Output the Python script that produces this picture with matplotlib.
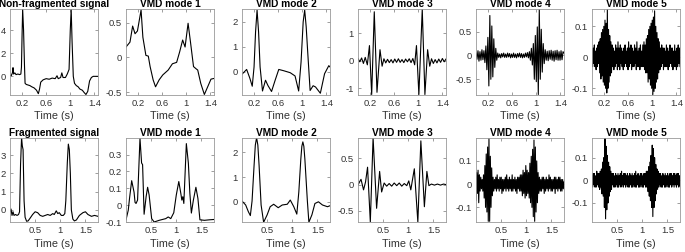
import numpy as np
import matplotlib
matplotlib.use('Agg')
import matplotlib.pyplot as plt
from matplotlib.ticker import FormatStrFormatter

plt.rcParams['font.family'] = ['Liberation Sans', 'DejaVu Sans']
plt.rcParams['axes.unicode_minus'] = False

# ---- top row: non-fragmented signal and its VMD modes ----
top_titles = ['Non-fragmented signal', 'VMD mode 1', 'VMD mode 2', 'VMD mode 3', 'VMD mode 4', 'VMD mode 5']
top_xticks = [0.2, 0.6, 1, 1.4]

sig_top_t = [0.00, 0.02, 0.04, 0.05, 0.06, 0.08, 0.10, 0.13, 0.16, 0.18, 0.19, 0.20, 0.21, 0.225, 0.24,
             0.25, 0.27, 0.30, 0.33, 0.36, 0.40, 0.44, 0.47, 0.49, 0.51, 0.55, 0.60, 0.65, 0.70, 0.75,
             0.78, 0.80, 0.84, 0.86, 0.88, 0.92, 0.95, 0.98, 1.00, 1.015, 1.03, 1.05, 1.07, 1.10, 1.13,
             1.16, 1.20, 1.23, 1.26, 1.29, 1.32, 1.35, 1.38, 1.46]
sig_top_v = [0.1, 0.05, 0.3, 0.75, 0.2, 0.3, 0.15, 0.2, 0.15, 0.2, 0.8, 3.5, 5.8, 4.0, 1.0,
             -0.6, -0.7, -0.75, -0.8, -0.9, -1.0, -1.2, -1.5, -1.1, -0.5, -0.3, -0.2, -0.25, -0.15, -0.2,
             0.05, -0.2, -0.1, 0.3, -0.1, -0.1, 0.2, 0.6, 4.0, 5.8, 3.0, 0.0, -0.6, -0.8, -0.9,
             -1.1, -1.2, -1.4, -1.57, -1.3, -0.4, -0.1, 0.0, 0.0]

m1_top_t = [0.00, 0.066, 0.11, 0.15, 0.19, 0.25, 0.28, 0.33, 0.37, 0.40, 0.45, 0.49, 0.55, 0.61, 0.70,
            0.77, 0.84, 0.89, 0.94, 0.98, 1.03, 1.07, 1.12, 1.16, 1.19, 1.24, 1.30, 1.37, 1.41, 1.46]
m1_top_v = [0.15, 0.22, 0.45, 0.34, 0.38, 0.68, 0.29, 0.03, 0.02, -0.13, -0.32, -0.42, -0.32, -0.25, -0.18,
            -0.09, -0.07, 0.08, 0.25, 0.15, 0.49, 0.22, -0.13, -0.16, -0.18, -0.37, -0.53, -0.39, -0.31, -0.3]

m2_top_t = [0.00, 0.077, 0.13, 0.17, 0.20, 0.225, 0.25, 0.275, 0.30, 0.34, 0.39, 0.43, 0.49, 0.55, 0.61, 0.69, 0.80,
            0.88, 0.94, 0.98, 1.015, 1.04, 1.065, 1.09, 1.13, 1.18, 1.22, 1.30, 1.37, 1.44, 1.46]
m2_top_v = [-0.09, 0.1, -0.25, -0.57, 0.2, 1.6, 2.47, 1.6, 0.2, -0.76, -0.33, -0.54, -0.78, -0.33, 0.1, 0.05, -0.03,
            -0.16, -0.76, 0.4, 2.0, 2.47, 1.8, 0.8, -0.74, -0.55, -0.6, -0.85, -0.07, 0.25, 0.2]

m3_top_t = [0.00, 0.03, 0.06, 0.09, 0.12, 0.155, 0.19, 0.227, 0.27, 0.315, 0.365, 0.40, 0.43, 0.46, 0.49,
            0.52, 0.55, 0.58, 0.61, 0.64, 0.67, 0.70, 0.73, 0.76, 0.79, 0.82, 0.85, 0.88, 0.91, 0.94,
            0.97, 1.01, 1.066, 1.11, 1.155, 1.19, 1.22, 1.25, 1.28, 1.31, 1.34, 1.37, 1.40, 1.43, 1.46]
m3_top_v = [0.08, -0.04, 0.1, -0.1, 0.12, -0.15, 0.55, -1.23, 1.78, -1.15, 0.4, -0.2, 0.07, -0.08, 0.05,
            -0.07, 0.04, -0.08, 0.06, -0.06, 0.07, -0.06, 0.04, -0.07, 0.06, -0.04, 0.07, -0.07, 0.08, -0.15,
            0.55, -1.23, 1.87, -1.23, 0.4, -0.2, 0.07, -0.1, 0.04, -0.08, 0.06, -0.06, 0.08, -0.04, 0.06]

m4_top_v = [0.05, -0.08, 0.1, -0.12, 0.08, -0.1, 0.12, -0.09, 0.1,
            -0.15, 0.2, -0.3, 0.38, -0.64, 0.84, -0.5, 0.62, -0.45, 0.35, -0.25, 0.15, -0.1,
            0.05, -0.04, 0.03, -0.05, 0.04, -0.03, 0.05, -0.04, 0.03, -0.04, 0.05, -0.03, 0.04, -0.05,
            0.03, -0.04, 0.05, -0.04, 0.03, -0.05, 0.04, -0.03, 0.05, -0.04, 0.04, -0.05, 0.03, -0.04,
            0.05, -0.03, 0.06, -0.05, 0.08, -0.1,
            0.15, -0.2, 0.25, -0.5, 0.42, -0.55, 0.6, -0.82, 0.97, -0.5, 0.55, -0.35, 0.25,
            -0.17, 0.12, -0.1, 0.09, -0.11, 0.1, -0.08, 0.11, -0.1, 0.09, -0.12, 0.1, -0.09, 0.11,
            -0.1, 0.08, -0.1, 0.1, -0.09, 0.08, 0.05]

m5_top_v = [0.02, -0.03, 0.03, -0.02, 0.04, -0.03, 0.02, -0.04, 0.03, -0.03, 0.04, -0.02, 0.05,
            -0.05, 0.06, -0.07, 0.08, -0.06, 0.09, -0.08, 0.1, -0.09, 0.12, -0.1, 0.11, -0.115, 0.155,
            -0.1, 0.09, -0.08, 0.07, -0.06, 0.05, -0.05,
            0.04, -0.03, 0.03, -0.04, 0.02, -0.03, 0.04, -0.02, 0.03, -0.04,
            0.05, -0.03, 0.03, -0.04, 0.04, -0.02, 0.03, -0.03, 0.02, -0.04,
            0.03, -0.03, 0.04, -0.02, 0.02, -0.03, 0.03, -0.04, 0.05, -0.03,
            0.03, -0.02, 0.04, -0.04, 0.03, -0.03, 0.02, -0.03, 0.04, -0.02,
            0.03, -0.04, 0.05, -0.03, 0.02, -0.03, 0.03, -0.04, 0.04, -0.03,
            0.02, -0.03, 0.04, -0.03, 0.05, -0.04, 0.04, -0.05, 0.06, -0.05,
            0.07, -0.08, 0.09, -0.07, 0.1, -0.09, 0.11, -0.1, 0.12, -0.12, 0.13, -0.11, 0.15,
            -0.1, 0.1, -0.08, 0.08, -0.07, 0.06, -0.05, 0.05,
            -0.04, 0.03, -0.03, 0.04, -0.02, 0.03, -0.04, 0.03, -0.03, 0.02,
            -0.03, 0.04, -0.03, 0.03, -0.04, 0.02, -0.03, 0.04, -0.02, 0.03,
            -0.03, 0.03, -0.04, 0.02, -0.03, 0.04, -0.03, 0.02, -0.04, 0.03,
            -0.03, 0.04, -0.02, 0.03, -0.03]

# ---- bottom row: fragmented signal and its VMD modes ----
bot_titles = ['Fragmented signal', 'VMD mode 1', 'VMD mode 2', 'VMD mode 3', 'VMD mode 4', 'VMD mode 5']
bot_xticks = [0.5, 1, 1.5]

sig_bot_t = [0.00, 0.02, 0.04, 0.06, 0.08, 0.11, 0.14, 0.17, 0.19, 0.21, 0.23, 0.245, 0.26, 0.28, 0.30,
             0.33, 0.36, 0.40, 0.45, 0.50, 0.55, 0.60, 0.65, 0.70, 0.75, 0.80, 0.85, 0.88, 0.92, 0.95,
             0.98, 1.02, 1.06, 1.09, 1.11, 1.14, 1.16, 1.18, 1.20, 1.22, 1.25, 1.28, 1.32, 1.38, 1.45,
             1.50, 1.55, 1.62, 1.68, 1.75]
sig_bot_v = [-0.1, 0.05, -0.3, -0.1, -0.3, -0.25, -0.3, -0.25, -0.1, 2.5, 3.95, 3.5, 3.3, 0.5, -0.4,
             -0.62, -0.6, -0.45, -0.25, -0.1, -0.15, -0.3, -0.35, -0.3, -0.25, -0.3, -0.2, -0.25, -0.05, -0.2,
             -0.15, -0.3, -0.3, -0.2, 0.5, 2.6, 3.6, 3.3, 2.0, 0.0, -0.5, -0.6, -0.55, -0.3, -0.15,
             -0.1, -0.25, -0.35, -0.3, -0.35]

m1_bot_t = [0.00, 0.045, 0.07, 0.113, 0.16, 0.18, 0.20, 0.23, 0.278, 0.31, 0.33, 0.36, 0.40, 0.43, 0.46,
            0.51, 0.56, 0.66, 0.79, 0.84, 0.89, 0.95, 1.00, 1.05, 1.09, 1.11, 1.13, 1.15, 1.20, 1.24,
            1.27, 1.30, 1.34, 1.39, 1.43, 1.47, 1.56, 1.66, 1.75]
m1_bot_v = [-0.087, -0.03, 0.04, 0.145, 0.077, 0.016, 0.01, 0.03, 0.397, 0.25, 0.24, -0.054, 0.05, 0.106, 0.06,
            -0.08, -0.1, -0.09, -0.08, -0.07, -0.08, -0.045, 0.06, 0.14, 0.07, 0.03, 0.05, 0.01, 0.365, 0.25,
            0.07, -0.047, 0.03, 0.106, 0.04, -0.087, -0.09, -0.087, -0.085]

m2_bot_t = [0.00, 0.073, 0.126, 0.166, 0.20, 0.24, 0.265, 0.29, 0.315, 0.34, 0.38, 0.43, 0.50, 0.56, 0.63, 0.72, 0.80,
            0.90, 0.96, 1.03, 1.09, 1.13, 1.17, 1.19, 1.21, 1.23, 1.25, 1.30, 1.33, 1.39, 1.45, 1.52, 1.60, 1.70, 1.75]
m2_bot_v = [0.03, -0.13, -0.4, -0.56, 0.03, 1.47, 2.3, 2.6, 2.3, 1.47, -0.13, -0.83, -0.53, -0.2, -0.1, -0.24, -0.13,
            -0.1, 0.07, -0.2, -0.5, 0.4, 1.74, 2.25, 2.43, 2.25, 1.74, 0.03, -0.83, -0.53, -0.07, 0.0, -0.13, -0.2, -0.16]

m3_bot_t = [0.00, 0.03, 0.06, 0.11, 0.15, 0.19, 0.245, 0.30, 0.37, 0.43, 0.47, 0.52, 0.57, 0.62, 0.67,
            0.72, 0.77, 0.82, 0.87, 0.92, 0.97, 1.01, 1.05, 1.12, 1.19, 1.25, 1.32, 1.37, 1.41, 1.46,
            1.52, 1.58, 1.64, 1.70, 1.75]
m3_bot_v = [-0.01, 0.05, 0.1, -0.1, 0.05, 0.33, -0.71, 0.89, -0.45, 0.25, -0.14, 0.03, -0.03, 0.02, -0.03,
            0.03, -0.02, 0.03, -0.03, 0.02, -0.02, 0.07, -0.1, 0.3, -0.71, 0.83, -0.42, 0.25, -0.02, 0.01,
            -0.01, 0.01, -0.01, 0.01, 0.0]

m4_bot_v = [-0.07, 0.05, -0.04, 0.06, -0.08, 0.04, -0.03, 0.03, -0.02, 0.02, -0.03,
            0.04, -0.06, 0.08, -0.1, 0.13, -0.12, 0.16, -0.16, 0.2, -0.16, 0.12, -0.1, 0.07, -0.05, 0.03,
            -0.03, 0.02, -0.02, 0.03, -0.03, 0.04, -0.02, 0.02, -0.03, 0.03,
            -0.02, 0.03, -0.04, 0.02, -0.03, 0.02, -0.02, 0.03, -0.03, 0.04,
            -0.02, 0.02, -0.03, 0.03, -0.02, 0.02, -0.03, 0.04, -0.03, 0.02,
            -0.02, 0.03, -0.03, 0.02, -0.04, 0.03, -0.02, 0.03, -0.03, 0.04, -0.03,
            0.04, -0.05, 0.06, -0.04, 0.05, -0.06, 0.08, -0.05, 0.06, -0.04,
            0.05, -0.06, 0.09, -0.08, 0.12, -0.1, 0.15, -0.14, 0.19, -0.16,
            0.16, -0.12, 0.1, -0.08, 0.05,
            -0.04, 0.03, -0.03, 0.02, -0.03, 0.03, -0.02, 0.03, -0.04, 0.02,
            -0.03, 0.03, -0.02, 0.02, -0.03, 0.04, -0.02, 0.03, -0.03, 0.02,
            -0.03, 0.02, -0.02, 0.03, -0.04, 0.03, -0.02, 0.02, -0.03, 0.03,
            -0.02, 0.03, -0.03, 0.02, -0.03, 0.02, -0.02, 0.01]

m5_bot_v = [0.02, -0.03, 0.03, -0.02, 0.03, -0.03, 0.02, -0.03, 0.04, -0.02, 0.03, -0.03, 0.03, -0.04, 0.04, -0.03,
            0.05, -0.06, 0.08, -0.07, 0.1, -0.12, 0.19, -0.17, 0.15, -0.13, 0.11, -0.1, 0.08, -0.07, 0.06, -0.05,
            0.04, -0.04,
            0.03, -0.02, 0.03, -0.03, 0.02, -0.03, 0.03, -0.02, 0.02, -0.03,
            0.03, -0.03, 0.02, -0.02, 0.03, -0.03, 0.04, -0.02, 0.02, -0.03,
            0.03, -0.02, 0.03, -0.03, 0.02, -0.02, 0.03, -0.03, 0.02, -0.03,
            0.03, -0.02, 0.02, -0.03, 0.03, -0.03, 0.02, -0.02, 0.03, -0.03,
            0.04, -0.03, 0.02, -0.02, 0.03, -0.03, 0.02, -0.03, 0.03, -0.02,
            0.03, -0.03, 0.02, -0.03, 0.03, -0.02, 0.03, -0.03, 0.04, -0.03, 0.04,
            -0.05, 0.06, -0.07, 0.08, -0.09, 0.11, -0.12, 0.155, -0.16, 0.14, -0.12, 0.1, -0.09, 0.07,
            -0.06, 0.05, -0.04, 0.04,
            -0.03, 0.03, -0.02, 0.03, -0.03, 0.02, -0.03, 0.03, -0.02, 0.02,
            -0.03, 0.03, -0.03, 0.02, -0.02, 0.03, -0.03, 0.02, -0.03, 0.03,
            -0.02, 0.03, -0.03, 0.02, -0.02, 0.03, -0.03, 0.03, -0.02, 0.02,
            -0.03, 0.03, -0.02, 0.03, -0.03, 0.02, -0.02]

top_end = 1.46
bot_end = 1.75

top_series = [(sig_top_t, sig_top_v), (m1_top_t, m1_top_v), (m2_top_t, m2_top_v), (m3_top_t, m3_top_v),
              (np.linspace(0, top_end, len(m4_top_v)), m4_top_v),
              (np.linspace(0, top_end, len(m5_top_v)), m5_top_v)]
bot_series = [(sig_bot_t, sig_bot_v), (m1_bot_t, m1_bot_v), (m2_bot_t, m2_bot_v), (m3_bot_t, m3_bot_v),
              (np.linspace(0, bot_end, len(m4_bot_v)), m4_bot_v),
              (np.linspace(0, bot_end, len(m5_bot_v)), m5_bot_v)]

top_ylims = [(-1.57, 5.8), (-0.53, 0.69), (-0.9, 2.5), (-1.23, 1.87), (-0.82, 0.97), (-0.12, 0.155)]
bot_ylims = [(-0.66, 3.95), (-0.1, 0.4), (-0.82, 2.6), (-0.71, 0.89), (-0.163, 0.2), (-0.184, 0.188)]
top_yticks = [[0, 2, 4], [-0.5, 0, 0.5], [0, 1, 2], [-1, 0, 1], [-0.5, 0, 0.5], [-0.1, 0, 0.1]]
bot_yticks = [[0, 1, 2, 3], [-0.1, 0, 0.1, 0.2, 0.3], [0, 1, 2], [-0.5, 0, 0.5], [-0.1, 0, 0.1], [-0.1, 0, 0.1]]

W, H = 685, 252
fig = plt.figure(figsize=(W / 100, H / 100), dpi=100)
lefts = [10, 126, 242, 358, 476, 592]
rows = [(9.3, 94.5, top_titles, top_series, top_ylims, top_yticks, top_xticks, top_end),
        (137.7, 222, bot_titles, bot_series, bot_ylims, bot_yticks, bot_xticks, bot_end)]

for y_top, y_bot, titles, series, ylims, yticks, xticks, t_end in rows:
    for k in range(6):
        ax = fig.add_axes([lefts[k] / W, 1 - y_bot / H, 88 / W, (y_bot - y_top) / H])
        t, v = series[k]
        ax.plot(t, v, color='black', lw=0.8)
        ax.set_xlim(0, t_end)
        ax.set_ylim(*ylims[k])
        ax.set_xticks(xticks)
        ax.set_yticks(yticks[k])
        ax.xaxis.set_major_formatter(FormatStrFormatter('%g'))
        ax.yaxis.set_major_formatter(FormatStrFormatter('%g'))
        ax.tick_params(direction='in', length=2, width=0.5, color='#777777', labelsize=6.8,
                       labelcolor='#333333', pad=3, top=True, right=True)
        for sp in ax.spines.values():
            sp.set_color('#999999')
            sp.set_linewidth(0.6)
        ax.set_xlabel('Time (s)', fontsize=7.8, color='#333333', labelpad=2.5)
        ax.set_title(titles[k], fontsize=7.3, fontweight='bold', pad=1.5)

fig.savefig('out.png', dpi=100)
